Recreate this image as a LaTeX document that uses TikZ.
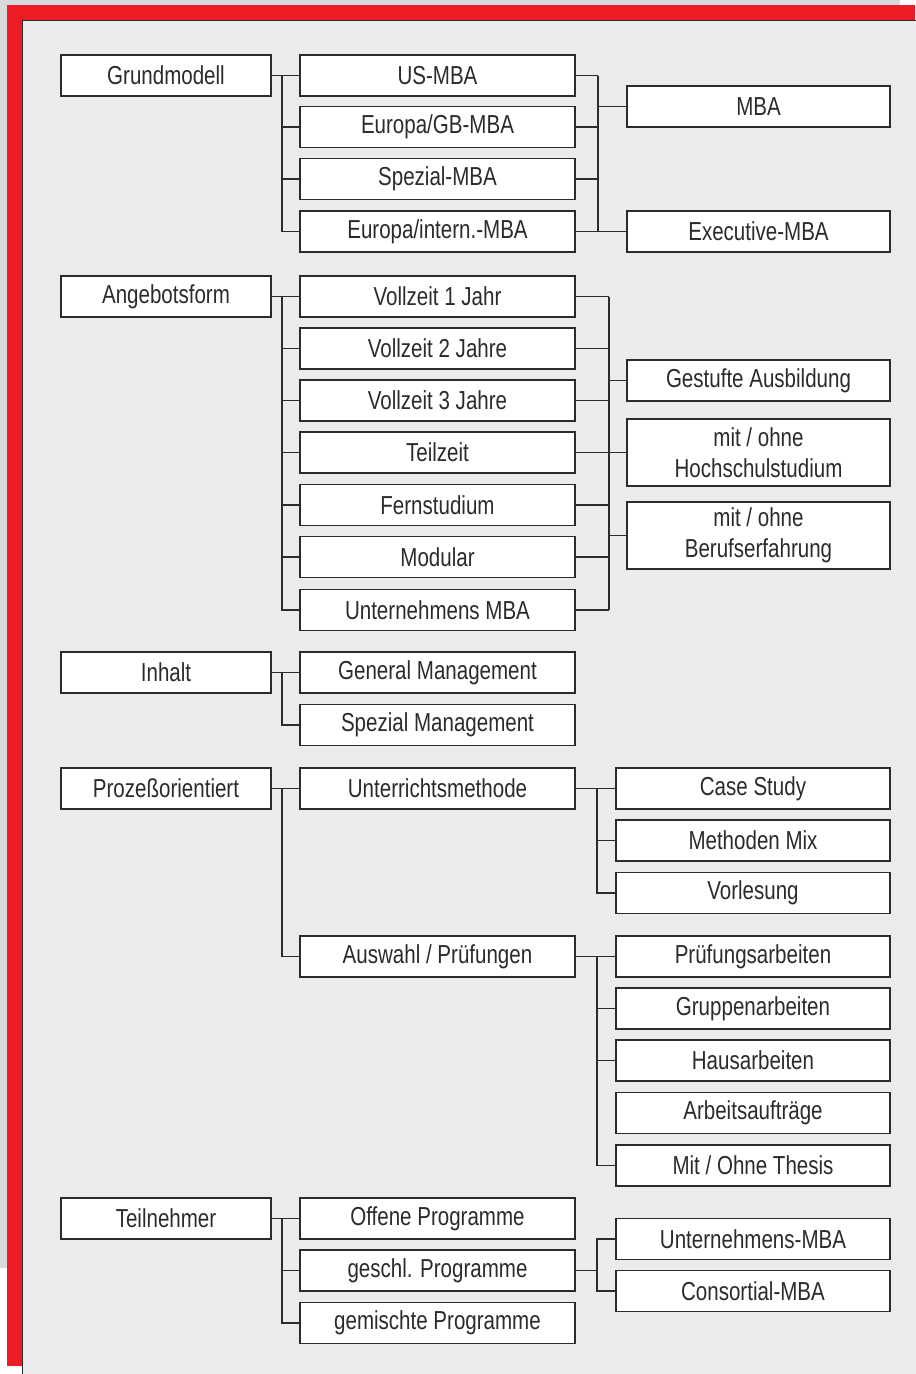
\documentclass[tikz,border=0pt]{standalone}
\usepackage{fontspec}
\setmainfont[FakeStretch=0.79]{Liberation Sans}
\usepackage{tikz}

\definecolor{framered}{HTML}{EE1C25}
\definecolor{panelgray}{HTML}{EBEBED}
\definecolor{outergray}{HTML}{D9DADC}
\definecolor{inkgray}{HTML}{2B2B2B}

\begin{document}
\begin{tikzpicture}[x=1pt,y=1pt]
    \tikzstyle{every node}+=[inner sep=0pt]
    \tikzstyle{kbox}=[draw=inkgray, line width=1.6pt, fill=white, minimum height=41pt, text=inkgray, font=\fontsize{26}{31}\selectfont, align=center]
    \tikzstyle{kbox l}=[kbox, minimum width=210pt]
    \tikzstyle{kbox m}=[kbox, minimum width=275pt]
    \tikzstyle{kbox r}=[kbox, minimum width=263pt]
    \tikzstyle{kbox s}=[kbox, minimum width=274pt]
    \tikzstyle{conn}=[draw=inkgray, line width=1.6pt]
    % frame
    \useasboundingbox (0,0) rectangle (916,-1374);
    \fill [white] (0,0) rectangle (916,-1374);
    \fill [outergray] (0,0) rectangle (900,-1268);
    \fill [framered] (7,-5) rectangle (915,-1366);
    \fill [panelgray] (22,-20) rectangle (916,-1374);
    \draw [inkgray, line width=1.2pt] (22.6,-1374) -- (22.6,-20.6) -- (916,-20.6);
    % Grundmodell
    \node [kbox l] (grund) at (166,-75.5) {Grundmodell};
    \node [kbox m] (usmba) at (437.5,-75.5) {US-MBA};
    \node [kbox m] (eurogb) at (437.5,-127) {Europa/GB-MBA};
    \node [kbox m] (spezmba) at (437.5,-179) {Spezial-MBA};
    \node [kbox m] (euroint) at (437.5,-231.5) {Europa/intern.-MBA};
    \node [kbox r] (mba) at (758.5,-106.5) {MBA};
    \node [kbox r] (exec) at (758.5,-231.5) {Executive-MBA};
    \foreach \c in {usmba,eurogb,spezmba,euroint}
        \draw [conn] (grund.east) -- ++(10,0) |- (\c.west);
    \coordinate (gbus) at ([xshift=22pt]usmba.east);
    \foreach \c in {usmba,eurogb,spezmba}
        \draw [conn] (\c.east) -- (\c.east -| gbus);
    \draw [conn] (gbus) -- (gbus |- euroint.east);
    \draw [conn] (gbus |- mba.west) -- (mba.west);
    \draw [conn] (euroint.east) -- (exec.west);
    % Angebotsform
    \node [kbox l] (angebot) at (166,-296.5) {Angebotsform};
    \node [kbox m] (vzeins) at (437.5,-296.5) {Vollzeit 1 Jahr};
    \node [kbox m] (vzzwei) at (437.5,-348.5) {Vollzeit 2 Jahre};
    \node [kbox m] (vzdrei) at (437.5,-400.5) {Vollzeit 3 Jahre};
    \node [kbox m] (teilzeit) at (437.5,-452.5) {Teilzeit};
    \node [kbox m] (fern) at (437.5,-505) {Fernstudium};
    \node [kbox m] (modular) at (437.5,-557) {Modular};
    \node [kbox m] (untmba) at (437.5,-610) {Unternehmens MBA};
    \node [kbox r] (gestuft) at (758.5,-380.5) {Gestufte Ausbildung};
    \node [kbox r, minimum height=67pt] (hochschul) at (758.5,-452.5) {mit / ohne\\Hochschulstudium};
    \node [kbox r, minimum height=67pt] (beruf) at (758.5,-535.5) {mit / ohne\\Berufserfahrung};
    \foreach \c in {vzeins,vzzwei,vzdrei,teilzeit,fern,modular,untmba}
        \draw [conn] (angebot.east) -- ++(10,0) |- (\c.west);
    \coordinate (abus) at ([xshift=33pt]vzeins.east);
    \foreach \c in {vzeins,vzzwei,vzdrei,teilzeit,fern,modular,untmba}
        \draw [conn] (\c.east) -- (\c.east -| abus);
    \draw [conn] (abus) -- (abus |- untmba.east);
    \foreach \c in {gestuft,hochschul,beruf}
        \draw [conn] (abus |- \c.west) -- (\c.west);
    % Inhalt
    \node [kbox l] (inhalt) at (166,-672.5) {Inhalt};
    \node [kbox m] (genmgmt) at (437.5,-672.5) {General Management};
    \node [kbox m] (spezmgmt) at (437.5,-725) {Spezial Management};
    \foreach \c in {genmgmt,spezmgmt}
        \draw [conn] (inhalt.east) -- ++(10,0) |- (\c.west);
    % Prozessorientiert
    \node [kbox l] (prozess) at (166,-788.5) {Prozeßorientiert};
    \node [kbox m] (unterricht) at (437.5,-788.5) {Unterrichtsmethode};
    \node [kbox m] (auswahl) at (437.5,-956.5) {Auswahl / Prüfungen};
    \node [kbox s] (casestudy) at (753,-788.5) {Case Study};
    \node [kbox s] (methmix) at (753,-840.5) {Methoden Mix};
    \node [kbox s] (vorlesung) at (753,-893) {Vorlesung};
    \node [kbox s] (pruefarb) at (753,-956.5) {Prüfungsarbeiten};
    \node [kbox s] (gruppen) at (753,-1008.5) {Gruppenarbeiten};
    \node [kbox s] (haus) at (753,-1060.5) {Hausarbeiten};
    \node [kbox s] (auftraege) at (753,-1113) {Arbeitsaufträge};
    \node [kbox s] (thesis) at (753,-1165.5) {Mit / Ohne Thesis};
    \foreach \c in {unterricht,auswahl}
        \draw [conn] (prozess.east) -- ++(10,0) |- (\c.west);
    \foreach \c in {casestudy,methmix,vorlesung}
        \draw [conn] (unterricht.east) -- ++(21,0) |- (\c.west);
    \foreach \c in {pruefarb,gruppen,haus,thesis}
        \draw [conn] (auswahl.east) -- ++(21,0) |- (\c.west);
    % Teilnehmer
    \node [kbox l] (teiln) at (166,-1218.5) {Teilnehmer};
    \node [kbox m] (offen) at (437.5,-1218.5) {Offene Programme};
    \node [kbox m] (geschl) at (437.5,-1270.5) {geschl. Programme};
    \node [kbox m] (gemischt) at (437.5,-1323) {gemischte Programme};
    \node [kbox s] (untmbazwei) at (753,-1239) {Unternehmens-MBA};
    \node [kbox s] (consort) at (753,-1291) {Consortial-MBA};
    \foreach \c in {offen,geschl,gemischt}
        \draw [conn] (teiln.east) -- ++(10,0) |- (\c.west);
    \foreach \c in {untmbazwei,consort}
        \draw [conn] (geschl.east) -- ++(21,0) |- (\c.west);
\end{tikzpicture}
\end{document}
